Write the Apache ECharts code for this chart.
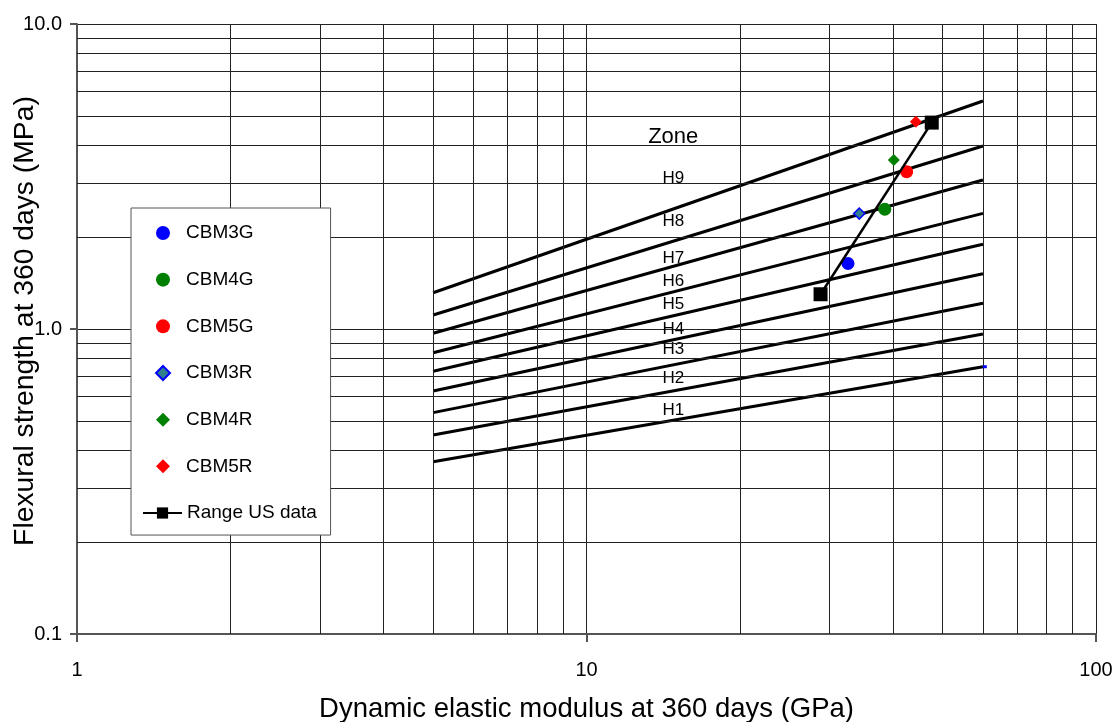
<!DOCTYPE html>
<html>
<head>
<meta charset="utf-8">
<script src="https://cdn.jsdelivr.net/npm/echarts@6/dist/echarts.min.js"></script>
<style>
html,body{margin:0;padding:0;background:#fff;}
#chart{width:1117px;height:722px;}
</style>
</head>
<body>
<div id="chart"></div>
<script>
// ---- data ----
const zoneNames = ['H1','H2','H3','H4','H5','H6','H7','H8','H9'];
const zoneX = [5, 60];
const zoneStartY = [0.367, 0.449, 0.532, 0.626, 0.727, 0.836, 0.968, 1.111, 1.315];
const zoneEndY   = [0.752, 0.963, 1.214, 1.518, 1.896, 2.394, 3.08, 3.98, 5.59];
const zoneLabelX = 14.8;
const zoneLabelY = [0.541, 0.689, 0.858, 1.0, 1.205, 1.434, 1.70, 2.25, 3.13];
const zoneTitle = 'Zone';
const zoneTitleY = 4.26;

const cbm3g = [[32.6, 1.64]];
const cbm4g = [[38.5, 2.47]];
const cbm5g = [[42.5, 3.28]];
const cbm3r = [[34.3, 2.39]];
const cbm4r = [[40.1, 3.58]];
const cbm5r = [[44.3, 4.78]];
const usRange = [[28.8, 1.30], [47.6, 4.75]];
const strayPoint = [[60.5, 0.752]];

const xMinor = [2,3,4,5,6,7,8,9,20,30,40,50,60,70,80,90];
const yMinor = [0.2,0.3,0.4,0.5,0.6,0.7,0.8,0.9,2,3,4,5,6,7,8,9];

const pointNames = ['CBM3G','CBM4G','CBM5G','CBM3R','CBM4R','CBM5R'];
const lineName = 'Range US data';

// ---- chart ----
const FONT = '"Liberation Sans", Arial, sans-serif';
const chart = echarts.init(document.getElementById('chart'));

const gridColor = '#222';
const markData = [];
xMinor.forEach(v => markData.push({xAxis: v}));
yMinor.forEach(v => markData.push({yAxis: v}));

const series = [];
series.push({
  name: 'grid', type: 'line', data: [], silent: true, z: 1,
  markLine: {
    silent: true, symbol: 'none', animation: false,
    label: {show: false},
    lineStyle: {color: gridColor, width: 1, type: 'solid'},
    emphasis: {disabled: true},
    data: markData
  }
});
zoneNames.forEach((n, i) => {
  series.push({
    name: n, type: 'line', z: 3, showSymbol: false, symbol: 'none',
    lineStyle: {color: '#000', width: 3}, silent: true,
    data: [[zoneX[0], zoneStartY[i]], [zoneX[1], zoneEndY[i]]]
  });
});
series.push({
  name: 'zoneLabels', type: 'scatter', symbolSize: 0, z: 4, silent: true,
  itemStyle: {opacity: 1},
  label: {show: true, position: 'inside', formatter: '{b}', color: '#000', opacity: 1, fontFamily: FONT, fontSize: 17},
  data: zoneNames.map((n, i) => ({name: n, value: [zoneLabelX, zoneLabelY[i]]})).concat([{
    name: zoneTitle, value: [zoneLabelX, zoneTitleY],
    label: {fontSize: 22, backgroundColor: '#fff', padding: [4, 21, 2, 21]}
  }])
});
function pts(name, data, symbol, size, color, border) {
  return {
    name, type: 'scatter', data, symbol, symbolSize: size, z: 6, symbolKeepAspect: true,
    itemStyle: {color, borderColor: border || color, borderWidth: border ? 1.5 : 0, opacity: 1}
  };
}
series.push(pts('CBM3G', cbm3g, 'circle', 13, '#0000ff'));
series.push(pts('CBM4G', cbm4g, 'circle', 13, '#008000'));
series.push(pts('CBM5G', cbm5g, 'circle', 13, '#ff0000'));
series.push(pts('CBM3R', cbm3r, 'diamond', 11, '#2f7f8f', '#0000ff'));
series.push(pts('CBM4R', cbm4r, 'diamond', 12, '#008000'));
series.push(pts('CBM5R', cbm5r, 'diamond', 12, '#ff0000'));
series.push({
  name: lineName, type: 'line', data: usRange, z: 7,
  symbol: 'rect', symbolSize: 14, showSymbol: true,
  lineStyle: {color: '#000', width: 2.5},
  itemStyle: {color: '#000'}
});
series.push({
  name: 'stray', type: 'scatter', data: strayPoint, symbol: 'rect', symbolSize: [4, 3], z: 5,
  itemStyle: {color: '#0000ff', opacity: 1}, silent: true
});

chart.setOption({
  animation: false,
  backgroundColor: '#fff',
  grid: {left: 77, right: 21, top: 24, bottom: 88, containLabel: false, outerBoundsMode: 'none'},
  xAxis: {
    type: 'log', logBase: 10, min: 1, max: 100,
    name: 'Dynamic elastic modulus at 360 days (GPa)',
    nameLocation: 'middle', nameGap: 61, nameMoveOverlap: false,
    nameTextStyle: {fontFamily: FONT, fontSize: 27.5, color: '#000'},
    axisLine: {show: true, lineStyle: {color: '#555', width: 2}},
    axisTick: {show: true, length: 8, lineStyle: {color: '#555', width: 2}},
    axisLabel: {fontFamily: FONT, fontSize: 20, color: '#000', margin: 26, formatter: v => String(Math.round(v))},
    splitLine: {show: true, lineStyle: {color: gridColor, width: 1}},
    minorTick: {show: false}, minorSplitLine: {show: false}
  },
  yAxis: {
    type: 'log', logBase: 10, min: 0.1, max: 10,
    name: 'Flexural strength at 360 days (MPa)',
    nameLocation: 'middle', nameGap: 38, nameMoveOverlap: false,
    nameTextStyle: {fontFamily: FONT, fontSize: 28.3, color: '#000', padding: [0, 0, 0, 16]},
    axisLine: {show: true, lineStyle: {color: '#555', width: 2}},
    axisTick: {show: true, length: 7, lineStyle: {color: '#555', width: 2}},
    axisLabel: {fontFamily: FONT, fontSize: 20, color: '#000', margin: 15, formatter: v => Number(v).toFixed(1)},
    splitLine: {show: true, lineStyle: {color: gridColor, width: 1}},
    minorTick: {show: false}, minorSplitLine: {show: false}
  },
  legend: [{
    data: pointNames,
    orient: 'vertical', left: 131, top: 208,
    padding: [15, 77, 58.7, 24],
    itemWidth: 14, itemHeight: 14, itemGap: 26.67,
    backgroundColor: '#fff', borderColor: '#555', borderWidth: 1,
    textStyle: {fontFamily: FONT, fontSize: 19, color: '#000', lineHeight: 20, padding: [0, 0, 0, 11]},
    selectedMode: false, z: 10
  }, {
    data: [lineName],
    orient: 'vertical', left: 142, top: 503,
    padding: 0,
    itemWidth: 39, itemHeight: 14,
    textStyle: {fontFamily: FONT, fontSize: 19, color: '#000', lineHeight: 20},
    selectedMode: false, z: 11
  }],
  series
});
</script>
</body>
</html>
